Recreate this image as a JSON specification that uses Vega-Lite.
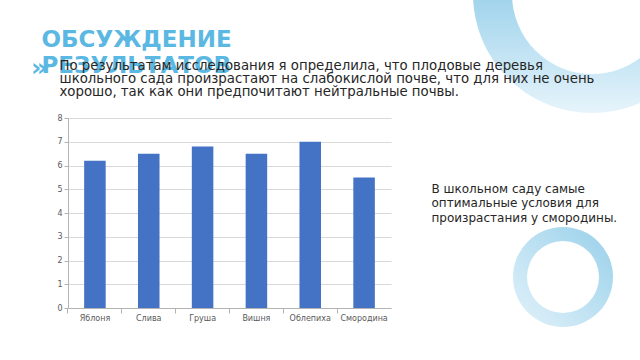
{
  "$schema": "https://vega.github.io/schema/vega-lite/v6.json",
  "width": 323,
  "height": 190,
  "padding": {"left": 31, "top": -125, "right": -71, "bottom": 33},
  "background": "white",
  "config": {"view": {"stroke": null}},
  "layer": [
    {
      "data": {"values": [{"part": 1}]},
      "mark": {
        "type": "arc",
        "innerRadius": 80,
        "outerRadius": 119,
        "xOffset": 362.5,
        "yOffset": -219,
        "color": {
          "gradient": "linear",
          "x1": 0, "y1": 0, "x2": 0, "y2": 1,
          "stops": [
            {"offset": 0, "color": "#86c8e6"},
            {"offset": 0.52, "color": "#a1d4ec"},
            {"offset": 1, "color": "#e6f4fb"}
          ]
        }
      },
      "encoding": {"theta": {"field": "part", "type": "quantitative"}}
    },
    {
      "data": {"values": [{"part": 1}]},
      "mark": {
        "type": "arc",
        "innerRadius": 36,
        "outerRadius": 50,
        "xOffset": 333.5,
        "yOffset": 64,
        "color": {
          "gradient": "linear",
          "x1": 0, "y1": 1, "x2": 1, "y2": 0,
          "stops": [
            {"offset": 0, "color": "#e2f2fa"},
            {"offset": 1, "color": "#98d0ea"}
          ]
        }
      },
      "encoding": {"theta": {"field": "part", "type": "quantitative"}}
    },
    {
      "data": {
        "values": [
          {"tree": "Яблоня", "ph": 6.2},
          {"tree": "Слива", "ph": 6.5},
          {"tree": "Груша", "ph": 6.8},
          {"tree": "Вишня", "ph": 6.5},
          {"tree": "Облепиха", "ph": 7.0},
          {"tree": "Смородина", "ph": 5.5}
        ]
      },
      "mark": {"type": "bar", "color": "#4472c4"},
      "encoding": {
        "x": {
          "field": "tree",
          "type": "nominal",
          "sort": null,
          "scale": {"paddingInner": 0.6, "paddingOuter": 0.3},
          "axis": {
            "title": null,
            "labelAngle": 0,
            "bandPosition": -0.75,
            "tickSize": 5,
            "labelPadding": 1,
            "labelFont": "DejaVu Sans",
            "labelFontSize": 8,
            "labelColor": "#595959",
            "domainColor": "#b3b3b3",
            "tickColor": "#b3b3b3"
          }
        },
        "y": {
          "field": "ph",
          "type": "quantitative",
          "scale": {"domain": [0, 8], "nice": false},
          "axis": {
            "title": null,
            "values": [0, 1, 2, 3, 4, 5, 6, 7, 8],
            "tickSize": 4,
            "labelPadding": 2,
            "labelFont": "DejaVu Sans",
            "labelFontSize": 8,
            "labelColor": "#595959",
            "domainColor": "#b3b3b3",
            "tickColor": "#b3b3b3",
            "gridColor": "#d9d9d9"
          }
        }
      }
    },
    {
      "data": {"values": [{"line": ["ОБСУЖДЕНИЕ", "РЕЗУЛЬТАТОВ"]}]},
      "mark": {
        "type": "text",
        "align": "left",
        "baseline": "alphabetic",
        "dx": -188,
        "dy": -166.2,
        "font": "DejaVu Sans",
        "fontWeight": "bold",
        "fontSize": 23,
        "lineHeight": 26.6,
        "color": "#5bb8e2"
      },
      "encoding": {"text": {"field": "line", "type": "nominal"}}
    },
    {
      "data": {"values": [{"line": "»"}]},
      "mark": {
        "type": "text",
        "align": "left",
        "baseline": "alphabetic",
        "dx": -198.5,
        "dy": -137,
        "font": "DejaVu Sans",
        "fontWeight": "bold",
        "fontSize": 25,
        "color": "#5bb8e2"
      },
      "encoding": {"text": {"field": "line", "type": "nominal"}}
    },
    {
      "data": {
        "values": [
          {
            "line": [
              "По результатам исследования я определила, что плодовые деревья",
              "школьного сада произрастают на слабокислой почве, что для них не очень",
              "хорошо, так как они предпочитают нейтральные почвы."
            ]
          }
        ]
      },
      "mark": {
        "type": "text",
        "align": "left",
        "baseline": "alphabetic",
        "dx": -170,
        "dy": -143,
        "font": "DejaVu Sans",
        "fontSize": 13.3,
        "lineHeight": 12.8,
        "color": "#262626"
      },
      "encoding": {"text": {"field": "line", "type": "nominal"}}
    },
    {
      "data": {
        "values": [
          {
            "line": [
              "В школьном саду самые",
              "оптимальные условия для",
              "произрастания у смородины."
            ]
          }
        ]
      },
      "mark": {
        "type": "text",
        "align": "left",
        "baseline": "alphabetic",
        "dx": 202,
        "dy": -19.7,
        "font": "DejaVu Sans",
        "fontSize": 12,
        "lineHeight": 14.2,
        "color": "#262626"
      },
      "encoding": {"text": {"field": "line", "type": "nominal"}}
    }
  ]
}
